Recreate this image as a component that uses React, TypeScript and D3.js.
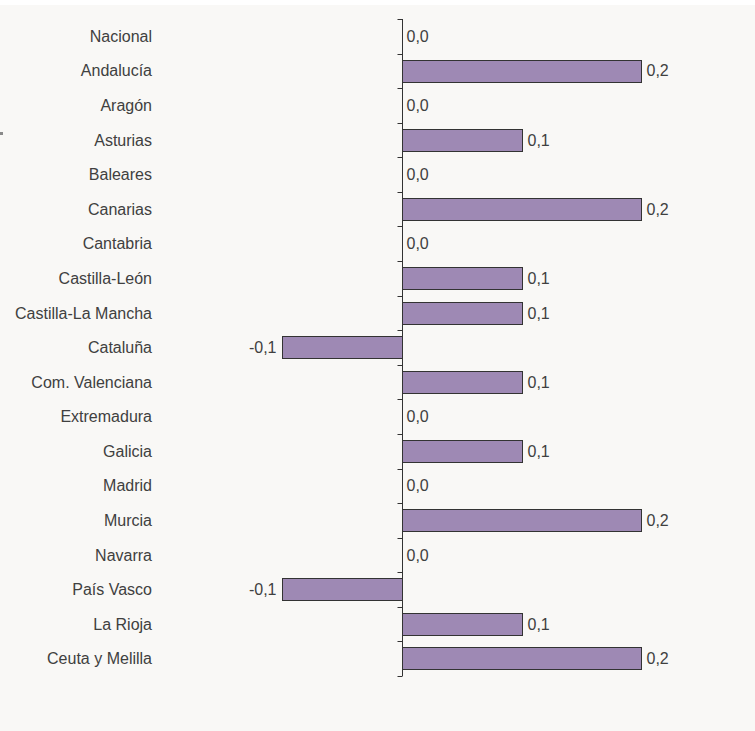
import React from "react";
import * as d3 from "d3";

const categories = [
  "Nacional", "Andalucía", "Aragón", "Asturias", "Baleares", "Canarias", "Cantabria",
  "Castilla-León", "Castilla-La Mancha", "Cataluña", "Com. Valenciana", "Extremadura",
  "Galicia", "Madrid", "Murcia", "Navarra", "País Vasco", "La Rioja", "Ceuta y Melilla",
];
const values = [0.0, 0.2, 0.0, 0.1, 0.0, 0.2, 0.0, 0.1, 0.1, -0.1, 0.1, 0.0, 0.1, 0.0, 0.2, 0.0, -0.1, 0.1, 0.2];
const xDomain = [-0.1, 0.2];

const W = 755, H = 731;
const fmt = (v: number) => v.toFixed(1).replace(".", ",");

export default function App() {
  const x = d3.scaleLinear().domain(xDomain).range([282.5, 641.5]);
  const y = d3.scaleBand<string>().domain(categories).range([19, 676]).paddingInner(0.35).paddingOuter(0.175);
  const step = y.step();
  const x0 = Math.floor(x(0)) + 0.5;
  const boundaries = d3.range(categories.length + 1).map((i) => 19 + i * step);
  const font = "'Liberation Sans', Arial, sans-serif";
  const fs = 16;
  return (
    <svg width={W} height={H} style={{ position: "absolute", left: 0, top: 0 }} fontFamily={font}>
      <rect x={0} y={0} width={W} height={H} fill="#ffffff" />
      <rect x={0} y={5} width={W} height={H - 5} fill="#f9f8f6" />
      <rect x={0} y={132} width={3} height={3} fill="#8a8a8a" />
      {categories.map((c, i) => {
        const v = values[i];
        const yy = y(c)!;
        const bw = Math.round(Math.abs(x(v) - x(0)));
        const cy = yy + y.bandwidth() / 2;
        return (
          <g key={c}>
            <text x={152} y={step * i + 19 + step / 2} dy="0.35em" textAnchor="end" fontSize={fs} fill="#404040">{c}</text>
            {v !== 0 && (
              <rect x={v < 0 ? x0 - bw : x0} y={Math.round(yy) + 0.5} width={bw} height={Math.round(y.bandwidth())} fill="#9e89b4" stroke="#333" strokeWidth={1} />
            )}
            <text
              x={v < 0 ? x0 - bw - 6 : x0 + (v === 0 ? 4 : bw + 5)}
              y={cy}
              dy="0.35em"
              textAnchor={v < 0 ? "end" : "start"}
              fontSize={fs}
              fill="#404040"
            >{fmt(v)}</text>
          </g>
        );
      })}
      <line x1={x0} x2={x0} y1={boundaries[0]} y2={boundaries[boundaries.length - 1]} stroke="#333" />
      {boundaries.map((b, i) => (
        <line key={i} x1={x0 - 5} x2={x0} y1={Math.round(b) + 0.5} y2={Math.round(b) + 0.5} stroke="#333" />
      ))}
    </svg>
  );
}
